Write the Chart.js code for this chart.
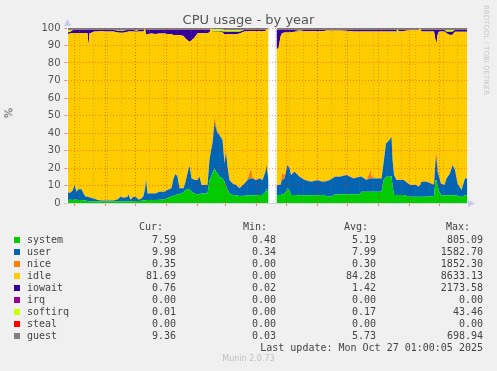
<!DOCTYPE html>
<html>
<head>
<meta charset="utf-8">
<script src="https://cdn.jsdelivr.net/npm/chart.js@4.4.1/dist/chart.umd.min.js"></script>
<style>
body { margin: 0; background: #f0f0f0; }
#wrap { position: relative; width: 497px; height: 371px; overflow: hidden; font-family: "DejaVu Sans", sans-serif; color: #555; }
#wrap div { position: absolute; white-space: pre; }
.mono { font-family: "DejaVu Sans Mono", monospace; font-size: 10px; line-height: 12px; color: #444; }
</style>
</head>
<body>
<div id="wrap">
  <canvas id="cpuChart" width="497" height="371"></canvas>
  <div style="left:0; width:497px; top:12px; text-align:center; font-size:13px; line-height:16px;">CPU usage - by year</div>
  <div style="left:4px; top:106px; font-size:11px; line-height:14px; transform:rotate(-90deg);">%</div>
  <div style="left:482px; top:5px; font-size:7px; color:#c8c8c8; writing-mode:vertical-rl;">RRDTOOL / TOBI OETIKER</div>
  <div style="left:0; width:497px; top:354px; text-align:center; font-size:8px; color:#c0c0c0;">Munin 2.0.73</div>
  <div id="legend"></div>
</div>
<script>
// day offsets from the left edge of the plot (1 px per day)
const days = [
  0, 3, 5, 7, 9, 11, 14, 16, 18, 20,
  21, 22, 24, 27, 30, 34, 40, 46, 50, 53,
  56, 60, 61, 63, 66, 69, 71, 74, 76, 77.5,
  78.5, 80, 84, 88, 92, 97, 100, 104, 106, 108,
  110, 112, 116, 118, 120, 122, 124, 127, 130, 132,
  134, 140, 142, 143.5, 145, 147, 148.5, 150, 152, 155,
  157, 158.5, 160, 162, 165, 168.5, 172, 177, 180, 182,
  183.5, 185, 188.5, 192, 195, 198, 199, 201, 205, 209,
  211, 213, 214.5, 217, 218.5, 220, 222, 223.5, 227, 232,
  237, 243.5, 250, 255, 259, 262.5, 267.5, 272.5, 279, 286,
  292.5, 294, 299, 302, 303, 304.5, 309, 314, 316, 318.5,
  322, 324, 325, 326.5, 329, 329.7, 331, 336, 342.5, 348.5,
  351, 352.5, 354, 359, 364, 366.5, 368, 369, 370, 371.5,
  373.5, 377, 379, 382.5, 385, 387.5, 390, 394, 397.5, 400
];

const system = [
  1.7, 1.8, 1.7, 2.0, 1.8, 1.7, 1.7, 1.6, 1.5, 1.2,
  1.0, 1.0, 1.0, 1.0, 1.0, 0.9, 0.9, 0.9, 1.0, 1.0,
  1.0, 1.0, 1.0, 1.0, 1.0, 1.1, 1.2, 1.3, 1.5, 1.6,
  1.7, 1.7, 1.7, 1.7, 1.8, 2.0, 2.8, 3.8, 4.2, 4.6,
  5.0, 5.0, 6.0, 7.5, 7.8, 8.0, 6.5, 5.5, 5.0, 5.0,
  5.5, 5.5, 13.0, 15.0, 17.0, 19.8, 17.9, 17.0, 15.0, 14.0,
  12.2, 10.0, 7.4, 5.5, 4.6, 4.5, 4.0, 4.2, 4.5, 4.5,
  4.5, 4.5, 4.5, 4.6, 4.6, 6.5, 8.4, 4.6, null, 4.6,
  4.6, 4.6, 4.8, 5.5, 6.5, 8.4, 7.0, 4.6, 4.6, 4.5,
  4.5, 4.5, 4.5, 4.6, 4.0, 3.6, 4.9, 5.0, 5.0, 5.0,
  5.0, 6.5, 6.5, 6.5, 6.5, 6.5, 6.5, 6.5, 13.0, 15.0,
  15.0, 15.5, 10.0, 4.6, 4.6, 4.6, 4.6, 4.6, 3.6, 3.6,
  3.6, 3.6, 3.6, 3.6, 3.8, 4.0, 13.0, 13.0, 10.0, 7.0,
  4.5, 4.5, 4.5, 4.5, 4.5, 4.5, 4.2, 3.5, 4.5, 4.5
];

const user = [
  4.2, 4.1, 5.3, 8.3, 4.7, 6.1, 6.1, 3.9, 2.1, 2.4,
  2.4, 2.2, 1.8, 1.5, 0.7, 0.5, 0.5, 0.6, 1.0, 2.6,
  2.0, 2.5, 3.9, 0.8, 2.6, 2.1, 0.6, 1.3, 2.5, 6.4,
  11.8, 3.8, 3.8, 3.8, 4.6, 4.4, 4.6, 4.7, 9.8, 12.0,
  10.0, 3.4, 2.4, 4.5, 9.2, 13.3, 7.6, 7.7, 8.1, 10.0,
  4.8, 4.8, 11.6, 15.0, 17.0, 26.2, 24.8, 22.8, 23.8, 22.0,
  10.4, 19.3, 13.3, 7.6, 6.6, 5.8, 4.4, 7.0, 8.6, 9.5,
  9.5, 9.5, 8.5, 9.4, 8.4, 11.5, 13.3, 8.4, null, 5.7,
  5.7, 5.9, 8.2, 8.5, 11.4, 13.3, 12.8, 11.4, 13.3, 10.5,
  8.6, 7.7, 8.5, 7.6, 8.5, 9.5, 10.1, 10.0, 11.0, 9.0,
  10.0, 8.5, 6.6, 7.5, 7.5, 7.5, 7.5, 7.5, 9.6, 19.0,
  21.0, 22.4, 15.0, 11.4, 8.5, 8.5, 8.5, 8.5, 6.7, 6.7,
  5.7, 6.4, 8.6, 8.6, 7.2, 6.5, 11.0, 13.0, 8.0, 8.0,
  6.5, 5.8, 9.5, 12.3, 17.2, 14.4, 7.0, 3.9, 9.5, 9.5
];

const nice = [
  0.2, 0.2, 0.2, 0.2, 0.2, 0.2, 0.2, 0.2, 0.2, 0.2,
  0.2, 0.2, 0.2, 0.2, 0.2, 0.2, 0.2, 0.2, 0.2, 0.2,
  0.2, 0.2, 0.2, 0.2, 0.2, 0.2, 0.2, 0.2, 0.2, 0.2,
  0.2, 0.2, 0.2, 0.2, 0.2, 0.2, 0.2, 0.2, 0.2, 0.2,
  0.2, 0.2, 0.2, 0.2, 0.2, 0.2, 0.2, 0.2, 0.2, 0.2,
  0.2, 0.2, 0.2, 0.5, 1.5, 3.7, 2.8, 1.2, 0.3, 0.3,
  0.3, 0.3, 0.3, 0.3, 0.3, 0.3, 0.3, 0.3, 0.3, 3.0,
  5.8, 1.0, 0.3, 0.3, 0.3, 0.3, 0.3, 0.3, null, 0.3,
  0.3, 0.3, 4.4, 2.0, 0.3, 0.3, 0.3, 0.3, 0.3, 0.3,
  0.3, 0.3, 0.3, 0.3, 0.3, 0.3, 0.3, 0.3, 0.3, 0.3,
  0.3, 0.3, 0.3, 3.0, 5.2, 1.0, 0.3, 0.3, 0.3, 0.3,
  0.3, 0.3, 0.3, 0.3, 0.3, 0.3, 0.3, 0.3, 0.3, 0.3,
  0.3, 0.3, 0.3, 0.3, 0.3, 0.3, 3.0, 3.0, 4.0, 1.0,
  0.3, 0.3, 0.3, 0.3, 0.3, 0.3, 0.3, 0.3, 0.3, 0.3
];

const idle = [
  90.5, 90.7, 89.9, 86.6, 90.4, 89.1, 89.2, 91.5, 93.4, 93.2,
  86.3, 93.6, 94.3, 95.3, 96.1, 96.5, 96.4, 96.3, 95.2, 93.5,
  94.1, 94.1, 92.9, 96.0, 94.2, 94.4, 96.0, 95.2, 93.8, 91.6,
  82.5, 90.9, 91.1, 90.9, 90.2, 90.2, 89.0, 87.8, 81.8, 79.2,
  80.8, 87.4, 86.9, 81.8, 75.8, 70.7, 78.7, 81.1, 83.7, 81.8,
  86.5, 86.7, 72.7, 69.5, 62.3, 48.1, 52.3, 56.8, 58.7, 61.2,
  73.6, 66.9, 75.5, 83.1, 85.0, 85.9, 88.1, 86.5, 84.8, 81.2,
  78.5, 83.3, 85.0, 84.0, 85.0, 80.0, 77.8, 85.0, null, 77.2,
  77.9, 84.2, 79.6, 81.4, 79.2, 75.4, 77.3, 81.3, 79.6, 82.9,
  84.8, 85.7, 84.9, 85.7, 85.8, 85.2, 83.3, 83.3, 82.1, 83.7,
  82.7, 82.7, 84.6, 81.0, 78.8, 83.0, 83.7, 83.7, 75.1, 63.7,
  61.7, 59.8, 72.7, 81.7, 84.6, 82.1, 84.9, 84.9, 88.1, 88.1,
  89.1, 89.5, 85.5, 85.5, 86.7, 87.2, 66.0, 62.2, 74.0, 82.0,
  86.7, 87.4, 82.7, 78.9, 74.2, 78.6, 86.3, 90.1, 83.5, 83.5
];

const iowait = [
  0.9, 1.0, 1.6, 1.7, 1.7, 1.7, 1.6, 1.6, 1.6, 1.8,
  8.9, 1.8, 1.5, 0.8, 0.8, 0.7, 0.8, 0.8, 1.0, 1.1,
  1.1, 1.0, 0.8, 0.8, 0.8, 0.5, 0.8, 0.8, 0.8, 0.0,
  2.6, 2.2, 2.0, 2.2, 2.0, 2.0, 2.2, 2.3, 2.8, 2.8,
  2.8, 2.8, 3.3, 4.8, 5.8, 6.6, 5.8, 4.3, 1.8, 1.8,
  1.8, 1.6, 1.3, 0.0, 0.3, 0.3, 0.3, 0.3, 0.3, 0.5,
  1.3, 1.3, 1.3, 1.3, 1.3, 1.3, 1.0, 0.8, 0.6, 0.6,
  0.5, 0.5, 0.5, 0.5, 0.5, 0.5, 0.0, 0.5, null, 11.0,
  10.3, 3.8, 1.8, 1.4, 1.4, 1.4, 1.4, 1.2, 1.0, 0.3,
  0.6, 0.6, 0.6, 0.6, 0.2, 0.2, 0.2, 0.2, 0.4, 0.8,
  0.8, 0.8, 0.8, 0.8, 0.8, 0.8, 0.8, 0.8, 0.8, 0.8,
  0.8, 0.8, 0.8, 0.8, 0.8, 0.5, 0.5, 0.5, 0.1, 0.1,
  0.1, 0.0, 0.8, 0.8, 0.8, 0.8, 5.8, 7.6, 2.8, 0.8,
  0.8, 0.8, 0.8, 1.8, 1.6, 1.0, 1.0, 1.0, 1.0, 1.0
];

const softirq = [
  1.3, 1.0, 0.1, 0, 0, 0, 0, 0, 0, 0,
  0, 0, 0, 0, 0, 0, 0, 0, 0.4, 0.4,
  0.4, 0, 0, 0, 0, 0.5, 0, 0, 0, 0,
  0, 0, 0, 0, 0, 0, 0, 0, 0, 0,
  0, 0, 0, 0, 0, 0, 0, 0, 0, 0,
  0, 0, 0, 0, 1.0, 1.0, 1.0, 1.0, 1.0, 1.0,
  1.0, 1.0, 1.0, 1.0, 1.0, 1.0, 1.0, 0, 0, 0,
  0, 0, 0, 0, 0, 0, 0, 0, null, 0,
  0, 0, 0, 0, 0, 0, 0, 0, 0, 0.3,
  0, 0, 0, 0, 0, 0, 0, 0, 0, 0,
  0, 0, 0, 0, 0, 0, 0, 0, 0, 0,
  0, 0, 0, 0, 0, 3.0, 0, 0, 0, 0,
  0, 0, 0, 0, 0, 0, 0, 0, 0, 0,
  0, 0, 1.0, 1.0, 1.0, 0, 0, 0, 0, 0
];

const guest = [
  5.2, 5.4, 5.5, 5.6, 5.5, 5.4, 5.3, 5.5, 5.6, 5.5,
  5.4, 5.5, 5.6, 5.7, 5.5, 5.4, 5.3, 5.5, 5.6, 5.7,
  5.8, 5.6, 5.5, 5.4, 5.5, 5.6, 5.7, 5.6, 5.5, 5.4,
  5.5, 5.6, 5.8, 5.9, 6.0, 5.8, 5.7, 5.6, 5.5, 5.4,
  5.5, 5.6, 5.7, 5.8, 5.9, 6.0, 5.8, 5.7, 5.6, 5.5,
  5.6, 5.7, 5.8, 6.0, 6.2, 6.4, 6.3, 6.1, 6.0, 5.9,
  5.8, 5.7, 5.6, 5.5, 5.6, 5.7, 5.8, 5.7, 5.6, 5.5,
  5.4, 5.5, 5.6, 5.7, 5.8, 5.9, 5.8, 5.7, null, 5.6,
  5.7, 5.8, 5.9, 6.0, 5.9, 5.8, 5.7, 5.8, 5.9, 6.0,
  5.9, 5.8, 5.7, 5.8, 5.9, 6.0, 5.9, 5.8, 5.7, 5.6,
  5.7, 5.8, 5.9, 6.0, 6.1, 6.0, 5.9, 5.8, 6.0, 6.3,
  6.4, 6.5, 6.2, 6.0, 5.9, 5.8, 5.7, 5.8, 5.9, 6.0,
  6.1, 6.0, 5.9, 5.8, 5.7, 5.8, 6.2, 6.4, 6.1, 5.9,
  5.8, 5.9, 6.0, 6.1, 6.2, 6.0, 5.9, 5.8, 6.0, 6.1
];

// x axis: month starts (major grid), tick label positions (mid-month)
const monthStarts = [7, 38, 68, 99, 130, 158, 189, 219, 250, 280, 311, 342, 372];
const labelDays = [22, 114, 204, 295, 387];
const labelText = ['October 2024', 'January 2025', 'April 2025', 'July 2025', 'October 2025'];

// legend table
const names = ['system', 'user', 'nice', 'idle', 'iowait', 'irq', 'softirq', 'steal', 'guest'];
const colors = ['#00cc00', '#0066b3', '#ff8000', '#ffcc00', '#330099', '#990099', '#ccff00', '#ff0000', '#808080'];
const curVals = ['7.59', '9.98', '0.35', '81.69', '0.76', '0.00', '0.01', '0.00', '9.36'];
const minVals = ['0.48', '0.34', '0.00', '0.00', '0.02', '0.00', '0.00', '0.00', '0.03'];
const avgVals = ['5.19', '7.99', '0.30', '84.28', '1.42', '0.00', '0.17', '0.00', '5.73'];
const maxVals = ['805.09', '1582.70', '1852.30', '8633.13', '2173.58', '0.00', '43.46', '0.00', '698.94'];

const MAJOR = 'rgba(255, 0, 0, 0.38)';
const MINOR = 'rgba(130, 130, 130, 0.4)';

// minor grid every two weeks
const minorDays = [];
for (let d = 11.5; d < 400; d += 14) minorDays.push(d);

const xKind = {};
minorDays.forEach(d => xKind[d] = 'minor');
monthStarts.forEach(d => xKind[d] = 'major');
labelDays.forEach((d, i) => xKind[d] = 'label' + i);
const xTickVals = Object.keys(xKind).map(Number).sort((a, b) => a - b);

function pts(arr) {
    return arr.map((v, i) => ({ x: days[i], y: v }));
}

const series = [
    ['system', system, '#00cc00'],
    ['user', user, '#0066b3'],
    ['nice', nice, '#ff8000'],
    ['idle', idle, '#ffcc00'],
    ['iowait', iowait, '#330099'],
    ['softirq', softirq, '#ccff00'],
    ['guest', guest, '#808080']
];

const datasets = series.map((s, i) => ({
    label: s[0],
    data: pts(s[1]),
    backgroundColor: s[2],
    borderColor: 'transparent',
    borderWidth: 0,
    pointRadius: 0,
    tension: 0,
    fill: i === 0 ? 'origin' : '-1'
}));

const framePlugin = {
    id: 'frame',
    beforeDraw(chart) {
        const { ctx, chartArea: a } = chart;
        ctx.save();
        ctx.fillStyle = '#ffffff';
        ctx.fillRect(a.left, a.top, a.right - a.left, a.bottom - a.top);
        ctx.restore();
    },
    afterDraw(chart) {
        const { ctx, chartArea: a } = chart;
        ctx.save();
        ctx.strokeStyle = '#ffffff';
        ctx.lineWidth = 1;
        ctx.beginPath();
        ctx.moveTo(67.5, 22);
        ctx.lineTo(67.5, a.bottom);
        ctx.stroke();
        ctx.strokeStyle = '#d4d4d4';
        ctx.beginPath();
        ctx.moveTo(64, a.bottom + 0.5);
        ctx.lineTo(470, a.bottom + 0.5);
        ctx.stroke();
        // axis arrows
        ctx.fillStyle = '#c5cbee';
        ctx.beginPath();
        ctx.moveTo(64, 26);
        ctx.lineTo(71, 26);
        ctx.lineTo(67.5, 19);
        ctx.fill();
        ctx.beginPath();
        ctx.moveTo(468, 200);
        ctx.lineTo(468, 207);
        ctx.lineTo(475, 203.5);
        ctx.fill();
        ctx.restore();
    }
};

new Chart(document.getElementById('cpuChart'), {
    type: 'line',
    data: { datasets: datasets },
    options: {
        responsive: false,
        animation: false,
        devicePixelRatio: 1,
        layout: { padding: { left: 0, top: 28, right: 29.5, bottom: 168 } },
        plugins: { legend: { display: false }, tooltip: { enabled: false } },
        scales: {
            x: {
                type: 'linear',
                min: 0,
                max: 400,
                afterBuildTicks(scale) { scale.ticks = xTickVals.map(v => ({ value: v })); },
                afterFit(scale) { scale.height = 0; },
                ticks: {
                    autoSkip: false,
                    maxRotation: 0,
                    padding: 1,
                    color: '#555',
                    font: { family: 'DejaVu Sans', size: 10 },
                    callback(v) {
                        const k = xKind[v];
                        return k && k.startsWith('label') ? labelText[+k.slice(5)] : '';
                    }
                },
                grid: {
                    z: 1,
                    lineWidth: 1,
                    tickLength: 3,
                    color: c => xKind[c.tick.value] === 'major' ? MAJOR : (xKind[c.tick.value] === 'minor' ? MINOR : 'transparent'),
                    tickColor: c => xKind[c.tick.value] === 'major' ? 'rgba(255,0,0,0.5)' : 'transparent'
                },
                border: { display: false, dash: [1, 2] }
            },
            y: {
                stacked: true,
                min: 0,
                max: 100,
                afterBuildTicks(scale) {
                    const t = [];
                    for (let v = 0; v <= 100; v += 5) t.push({ value: v });
                    scale.ticks = t;
                },
                afterFit(scale) { scale.width = 67.5; },
                ticks: {
                    padding: 4,
                    color: '#555',
                    font: { family: 'DejaVu Sans', size: 10 },
                    callback: v => v % 10 === 0 ? String(v) : ''
                },
                grid: {
                    z: 1,
                    lineWidth: 1,
                    tickLength: 3,
                    color: c => c.tick.value === 0 ? 'transparent' : (c.tick.value % 10 === 0 ? MAJOR : MINOR),
                    tickColor: c => c.tick.value % 10 === 0 ? 'rgba(255,0,0,0.5)' : 'rgba(130,130,130,0.5)'
                },
                border: { display: false, dash: [1, 2] }
            }
        }
    },
    plugins: [framePlugin]
});

// legend block under the graph
function put(text, rightEdge, cy) {
    const d = document.createElement('div');
    d.className = 'mono';
    d.textContent = text;
    d.style.right = (497 - rightEdge) + 'px';
    d.style.top = (cy - 6) + 'px';
    document.getElementById('wrap').appendChild(d);
}
put('Cur:', 163, 227);
put('Min:', 267, 227);
put('Avg:', 368, 227);
put('Max:', 470, 227);
names.forEach((n, i) => {
    const cy = 240 + i * 11.95;
    const sq = document.createElement('div');
    sq.style.cssText = 'left:14px;top:' + (cy - 3) + 'px;width:6px;height:6px;background:' + colors[i];
    document.getElementById('wrap').appendChild(sq);
    const lab = document.createElement('div');
    lab.className = 'mono';
    lab.textContent = n;
    lab.style.left = '27px';
    lab.style.top = (cy - 6) + 'px';
    document.getElementById('wrap').appendChild(lab);
    put(curVals[i], 176, cy);
    put(minVals[i], 276, cy);
    put(avgVals[i], 376, cy);
    put(maxVals[i], 483, cy);
});
put('Last update: Mon Oct 27 01:00:05 2025', 483, 347.5);
</script>
</body>
</html>
